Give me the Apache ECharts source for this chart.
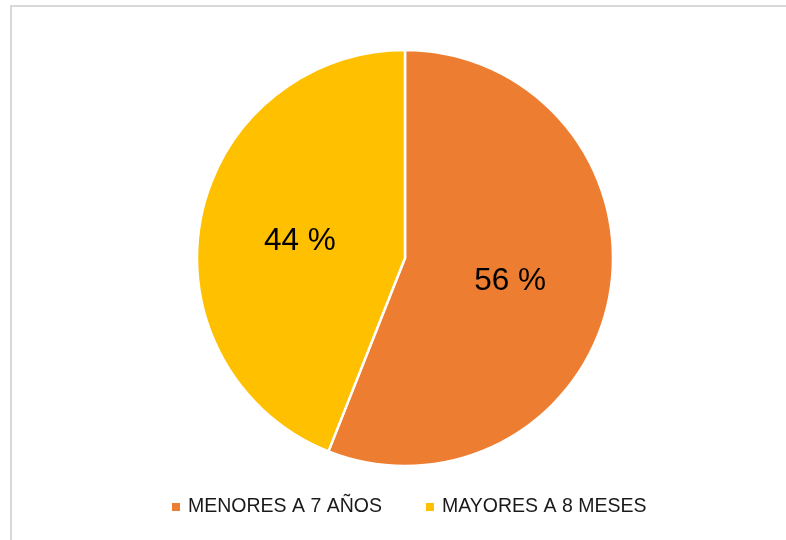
<!DOCTYPE html>
<html>
<head>
<meta charset="utf-8">
<script src="https://cdn.jsdelivr.net/npm/echarts@6/dist/echarts.min.js"></script>
<style>
  html, body { margin: 0; padding: 0; background: #fff; }
  #chart { width: 786px; height: 540px; }
</style>
</head>
<body>
<div id="chart"></div>
<script>
// Age groups and their share of the total (percent)
const categories = ['MENORES A 7 AÑOS', 'MAYORES A 8 MESES'];
const values = [56, 44];
const colors = ['#ED7D31', '#FFC000'];

const chart = echarts.init(document.getElementById('chart'), null, { renderer: 'canvas' });

const pieData = categories.map((name, i) => ({
  name: name,
  value: values[i],
  itemStyle: { color: colors[i] }
}));

chart.setOption({
  backgroundColor: '#ffffff',
  animation: false,
  graphic: [{
    type: 'rect',
    shape: { x: 11, y: 6, width: 800, height: 600 },
    style: { fill: 'none', stroke: '#d9d9d9', lineWidth: 2 },
    silent: true,
    z: 0
  }],
  legend: {
    data: categories,
    bottom: 18,
    left: 165,
    icon: 'rect',
    itemWidth: 10,
    itemHeight: 10,
    itemGap: 42,
    textStyle: {
      fontFamily: 'Liberation Sans, Arial, sans-serif',
      fontSize: 19.5,
      color: '#1a1a1a',
      padding: [0, 0, 0, 2]
    }
  },
  series: [{
    type: 'pie',
    center: [405, 258],
    radius: [0, 208],
    startAngle: 90,
    clockwise: true,
    data: pieData,
    itemStyle: { borderColor: '#ffffff', borderWidth: 2.5 },
    label: {
      show: true,
      position: 'inside',
      formatter: p => p.value + ' %',
      fontFamily: 'Liberation Sans, Arial, sans-serif',
      fontSize: 31.5,
      color: '#000000',
      offset: [0, 3]
    },
    labelLine: { show: false },
    emphasis: { disabled: true }
  }]
});
</script>
</body>
</html>
